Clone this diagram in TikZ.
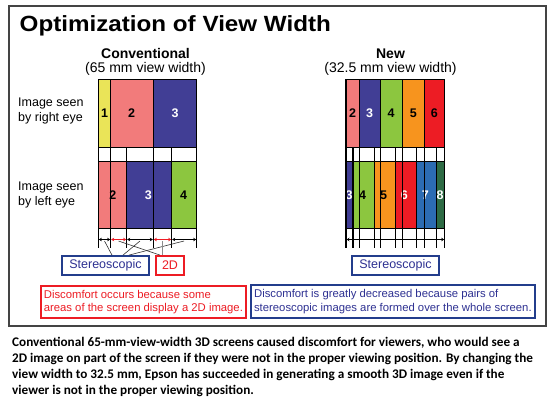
\documentclass[tikz,border=0pt]{standalone}
\usepackage{fontspec}
\setmainfont{Liberation Sans}
\newfontfamily\capfont{Carlito}
\usetikzlibrary{arrows.meta}
\definecolor{cyel}{HTML}{EAE458}
\definecolor{cpink}{HTML}{F27B7B}
\definecolor{cblue}{HTML}{413E95}
\definecolor{cgreen}{HTML}{8CC63F}
\definecolor{corange}{HTML}{F7941E}
\definecolor{cred}{HTML}{ED1C24}
\definecolor{cblue2}{HTML}{2C6CB3}
\definecolor{cdgreen}{HTML}{2E6B44}
\definecolor{bblue}{HTML}{233D8C}
\definecolor{tblue}{HTML}{2E3192}
\definecolor{frame}{HTML}{444444}
\tikzset{
  num/.style={font=\bfseries\fontsize{12.5}{14}\selectfont, inner sep=0pt},
  wnum/.style={num, text=white},
  side/.style={font=\fontsize{12.5}{14.5}\selectfont, align=left, anchor=west, inner sep=0pt},
  head/.style={font=\bfseries\fontsize{14}{16}\selectfont, inner sep=0pt},
  sub/.style={font=\fontsize{14}{16}\selectfont, inner sep=0pt},
  tick/.style={line width=1.1pt, black},
  cellborder/.style={line width=1.2pt, draw=black},
  barrow/.style={line width=1.8pt, black, {Stealth[length=3pt,width=3.5pt]}-{Stealth[length=3pt,width=3.5pt]}},
  rarrow/.style={line width=1.8pt, cred, {Stealth[length=3pt,width=3.5pt]}-{Stealth[length=3pt,width=3.5pt]}},
  conn/.style={line width=0.6pt, black!80},
  tagbox/.style={draw=#1, line width=1.8pt, inner sep=0pt, font=\fontsize{12.5}{14}\selectfont, minimum height=19pt},
  notebox/.style={draw=#1, line width=1.8pt, inner sep=0pt, align=left, font=\fontsize{11.3}{13.6}\selectfont, minimum height=32.6pt},
}
\begin{document}
\begin{tikzpicture}[x=1pt,y=-1pt]
\useasboundingbox (0,0) rectangle (553,404);
\fill[white] (0,0) rectangle (553,404);
% outer frame
\draw[frame, line width=1.3pt] (9,6) rectangle (546,326);
\node[anchor=west, font=\bfseries\fontsize{22}{24}\selectfont, inner sep=0pt] (title) at (19.5,26) {\scalebox{1.1}[1]{Optimization of View Width}};

% ---------------- Conventional ----------------
\node[head] (convh) at (145.5,53.5) {Conventional};
\node[sub] (convs) at (145.5,69) {(65 mm view width)};
\node[side] (re) at (18,111) {Image seen\\by right eye};
\node[side] (le) at (18,195) {Image seen\\by left eye};

% top strip
\fill[cyel] (98.3,79.3) rectangle (110.7,147.3);
\fill[cpink] (110.7,79.3) rectangle (153.3,147.3);
\fill[cblue] (153.3,79.3) rectangle (196.7,147.3);
\draw[cellborder] (98.3,79.3) rectangle (196.7,147.3);
\draw[tick] (110.7,79.3) -- (110.7,147.3);
\draw[tick] (153.3,79.3) -- (153.3,147.3);
\node[num] (r1) at (104.5,113.5) {1};
\node[num] (r2) at (131.5,113.5) {2};
\node[wnum] (r3) at (175,113.5) {3};

% bottom strip
\fill[cpink] (98.3,161.3) rectangle (126.7,228.3);
\fill[cblue] (126.7,161.3) rectangle (171.7,228.3);
\fill[cgreen] (171.7,161.3) rectangle (196.7,228.3);
\draw[cellborder] (98.3,161.3) rectangle (196.7,228.3);
\node[num] (l2) at (112.8,195.5) {2};
\node[wnum] (l3) at (148.3,195.5) {3};
\node[num] (l4) at (183.7,195.5) {4};
\foreach \x in {98.3,110.7,126.7,153.3,171.7,196.7}
  \draw[tick] (\x,147.3) -- (\x,248);

% arrows
\draw[barrow] (98.8,239.5) -- (110.2,239.5);
\draw[rarrow] (111.2,239.5) -- (126.2,239.5);
\draw[barrow] (127.2,239.5) -- (152.8,239.5);
\draw[rarrow] (153.8,239.5) -- (171.2,239.5);
\draw[barrow] (172.2,239.5) -- (196.2,239.5);

% tag boxes
\node[tagbox=bblue, text=tblue, minimum width=87.6pt] (stL) at (105.5,265.5) {Stereoscopic};
\node[tagbox=cred, text=cred, minimum width=28.6pt] (twoD) at (170,265.5) {2D};

\coordinate (m1) at (104.5,241);
\coordinate (m2) at (118.5,241);
\coordinate (m3) at (140,241);
\coordinate (m4) at (162.5,241);
\coordinate (m5) at (184,241);
\draw[conn] (m1) -- (stL.north -| 112,0);
\draw[conn] (m3) -- (stL.north -| 123,0);
\draw[conn] (m5) -- (stL.north -| 129,0);
\draw[conn] (m2) -- (twoD.north -| 160,0);
\draw[conn, black!45] (m4) -- (twoD.north -| 162.5,0);

% ---------------- New ----------------
\node[head] (newh) at (390.5,53.5) {New};
\node[sub] (news) at (390.5,69) {(32.5 mm view width)};

\fill[cpink] (346,79.3) rectangle (359.3,147.3);
\fill[cblue] (359.3,79.3) rectangle (380.3,147.3);
\fill[cgreen] (380.3,79.3) rectangle (402.3,147.3);
\fill[corange] (402.3,79.3) rectangle (424.3,147.3);
\fill[cred] (424.3,79.3) rectangle (444.7,147.3);
\draw[cellborder] (346,79.3) rectangle (444.7,147.3);
\foreach \x in {359.3,380.3,402.3,424.3}
  \draw[tick] (\x,79.3) -- (\x,147.3);
\node[num] (n2) at (352.5,113.5) {2};
\node[wnum] (n3) at (369.5,113.5) {3};
\node[num] (n4) at (391.2,113.5) {4};
\node[num] (n5) at (413.3,113.5) {5};
\node[num] (n6) at (434.3,113.5) {6};

\fill[cblue] (346,161.3) rectangle (353,228.3);
\fill[cgreen] (353,161.3) rectangle (374.3,228.3);
\fill[corange] (374.3,161.3) rectangle (395.7,228.3);
\fill[cred] (395.7,161.3) rectangle (416.3,228.3);
\fill[cblue2] (416.3,161.3) rectangle (436.3,228.3);
\fill[cdgreen] (436.3,161.3) rectangle (444.7,228.3);
\draw[cellborder] (346,161.3) rectangle (444.7,228.3);
\node[wnum] (b3) at (349,195.5) {3};
\node[num] (b4) at (362.7,195.5) {4};
\node[num] (b5) at (383.7,195.5) {5};
\node[wnum] (b6) at (404.3,195.5) {6};
\node[wnum] (b7) at (425.3,195.5) {7};
\node[wnum] (b8) at (440,195.5) {8};
\foreach \x in {346,353,359.3,374.3,380.3,395.7,402.3,416.3,424.3,436.3,444.7}
  \draw[tick] (\x,147.3) -- (\x,248);
\draw[barrow] (346.5,239.5) -- (444.2,239.5);

\node[tagbox=bblue, text=tblue, minimum width=87.6pt] (stR) at (395.5,265.2) {Stereoscopic};

% notes
\node[notebox=cred, text=cred, minimum width=205.3pt] (noteL) at (143.4,302) {Discomfort occurs because some\\areas of the screen display a 2D image.};
\node[notebox=bblue, text=tblue, minimum width=284.3pt] (noteR) at (392.9,301.4) {Discomfort is greatly decreased because pairs of\\stereoscopic images are formed over the whole screen.};

% caption
\node[anchor=north west, align=left, inner sep=0pt, font=\capfont\bfseries\fontsize{13.2}{16}\selectfont] (cap) at (12,337) {Conventional 65-mm-view-width 3D screens caused discomfort for viewers, who would see a\\2D image on part of the screen if they were not in the proper viewing position. By changing the\\view width to 32.5 mm, Epson has succeeded in generating a smooth 3D image even if the\\viewer is not in the proper viewing position.};
\end{tikzpicture}
\end{document}
